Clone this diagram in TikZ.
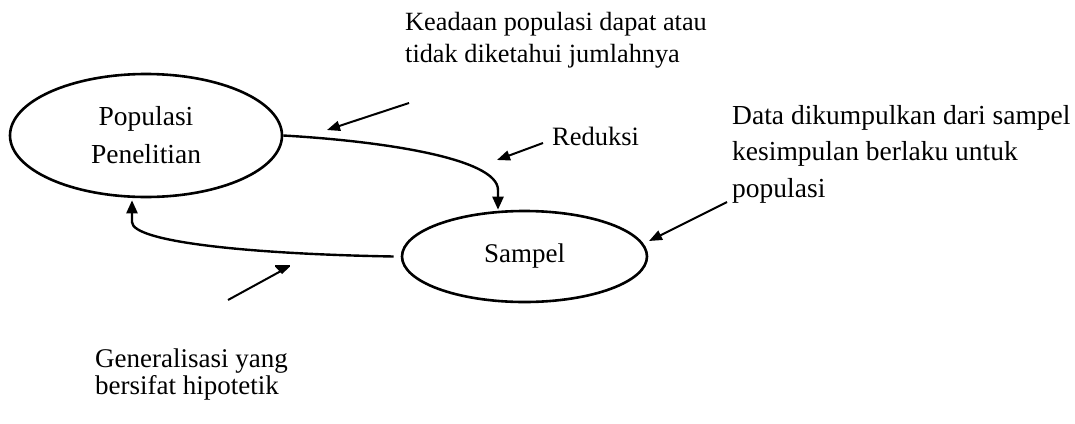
\documentclass[tikz,border=0pt]{standalone}
\usepackage{fontspec}
\setmainfont{Liberation Serif}
\usetikzlibrary{shapes.geometric,arrows.meta}
\begin{document}
\begin{tikzpicture}[x=1pt,y=-1pt,
  oval/.style={draw,ellipse,line width=2.6pt,inner sep=0pt},
  conn/.style={line width=2.4pt,-{Triangle[length=13pt,width=11pt]}},
  ptr/.style={line width=2pt,-{Triangle[length=13pt,width=10pt]}},
  lbl/.style={inner sep=0pt,align=left,anchor=north west},
]
\useasboundingbox (0,0) rectangle (1075,423);

% ellipses
\node[oval,minimum width=272pt,minimum height=123pt,align=center,
      font=\fontsize{27.5}{38}\selectfont] (pop) at (146,135.5) {Populasi\\Penelitian};
\node[oval,minimum width=245pt,minimum height=91pt,
      font=\fontsize{27}{32}\selectfont] (sam) at (524.5,256.5) {Sampel};

% labels
\node[lbl,font=\fontsize{26.3}{32}\selectfont] (kea) at (405,12)
  {Keadaan populasi dapat atau\\tidak diketahui jumlahnya};
\node[lbl,font=\fontsize{26.5}{32}\selectfont] (red) at (552,127) {Reduksi};
\node[lbl,font=\fontsize{27.5}{36.5}\selectfont] (dat) at (732,105)
  {Data dikumpulkan dari sampel\\kesimpulan berlaku untuk\\populasi};
\node[lbl,font=\fontsize{27}{27}\selectfont] (gen) at (95,349)
  {Generalisasi yang\\bersifat hipotetik};

% main connectors
\coordinate (r1) at (498,190);
\draw[conn] (pop.east) .. controls (380,141) and (498,158) .. (r1) -- (r1 |- sam.north);
\coordinate (g1) at (132,222);
\draw[conn] ([xshift=-7pt]sam.west) .. controls (250,254) and (132,242) .. (g1) -- ([yshift=-2pt]g1 |- pop.south);

% pointer arrows
\coordinate (k1) at (409,103); \coordinate (k2) at (327,130);
\draw[ptr] (k1) -- (k2);
\coordinate (d1) at (543,143); \coordinate (d2) at (497,160);
\draw[ptr] (d1) -- (d2);
\coordinate (s1) at (727,202); \coordinate (s2) at (649,241);
\draw[ptr] (s1) -- (s2);
\coordinate (h1) at (228,300); \coordinate (h2) at (281,271);
\draw[line width=2pt] (h1) -- (h2);
\fill (275,264.5) rectangle (290,266.5);
\fill (275.5,267) -- (289.5,267) -- (282,274) -- cycle;
\end{tikzpicture}
\end{document}
